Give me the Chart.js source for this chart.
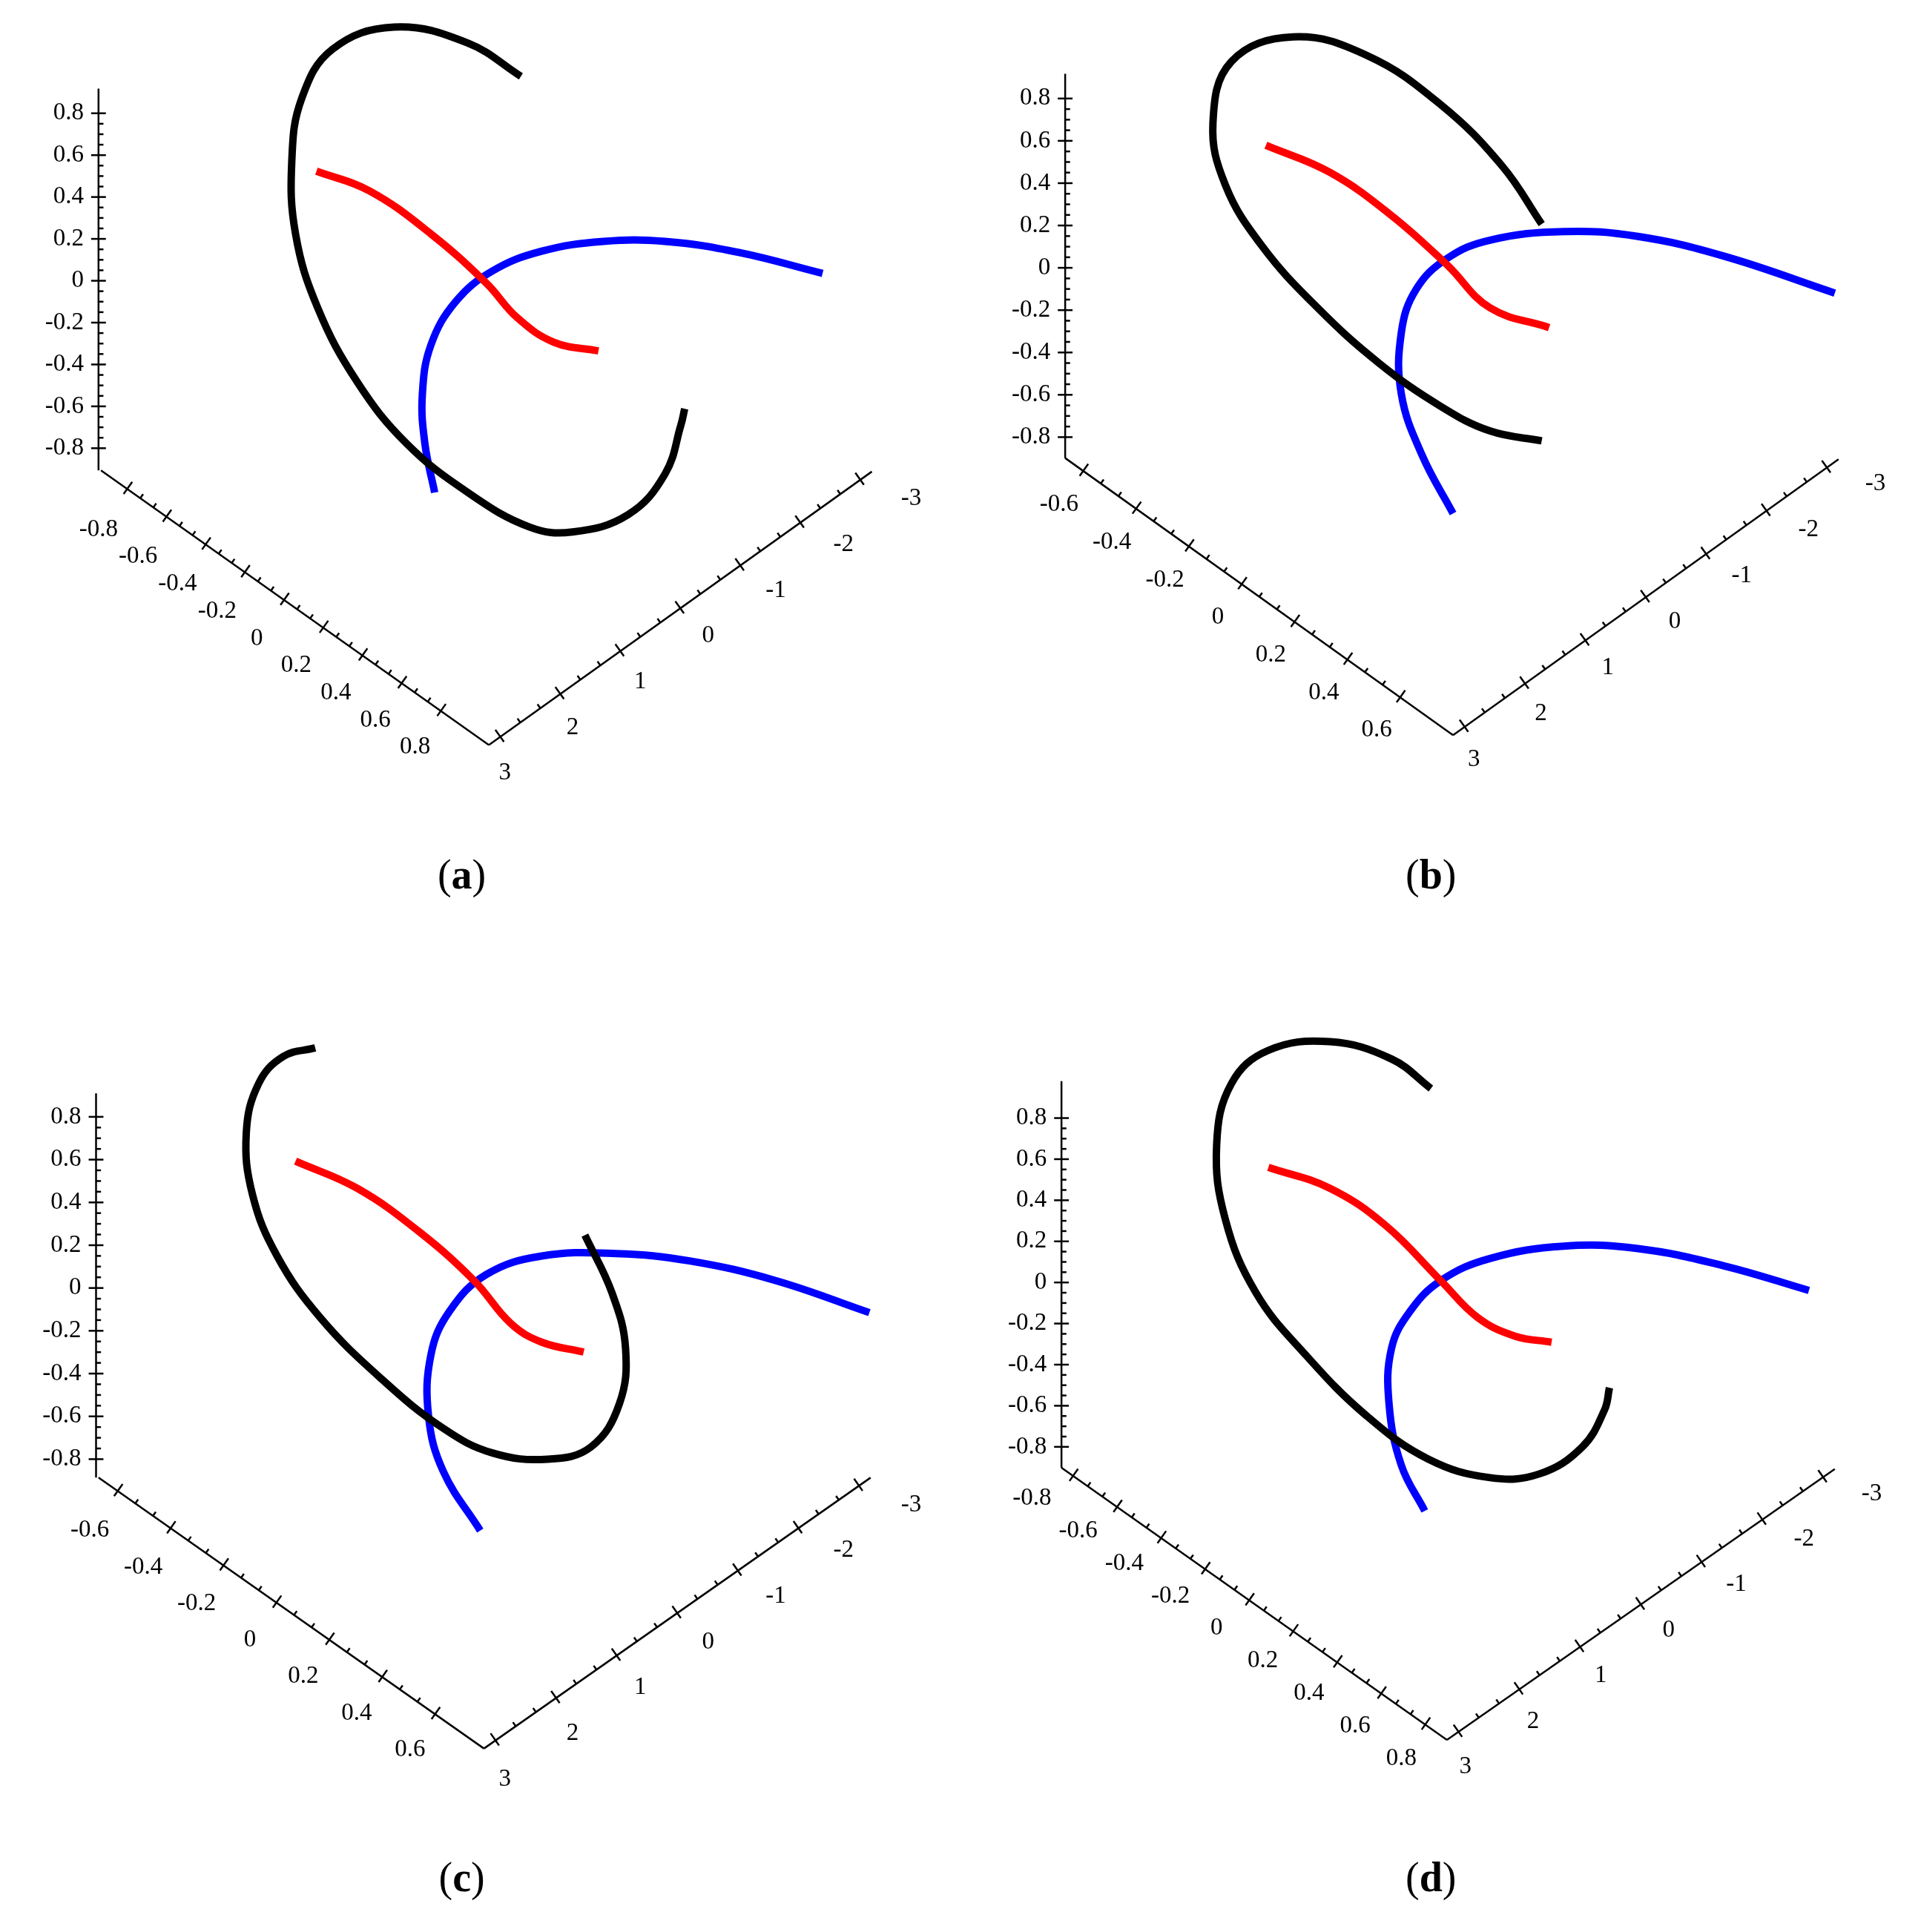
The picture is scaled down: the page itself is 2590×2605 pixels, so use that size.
<!DOCTYPE html>
<html>
<head>
<meta charset="utf-8">
<script src="https://cdn.jsdelivr.net/npm/chart.js@4/dist/chart.umd.min.js"></script>
<style>
  html, body { margin: 0; padding: 0; background: #fff; }
  #wrap { width: 2590px; height: 2605px; position: relative; }
</style>
</head>
<body>
<div id="wrap"><canvas id="c"></canvas></div>
<script>
// curve points, in picture units (1560 x 1569 frame)
const blackA = [[423,62],[380,35],[320,22],[270,40],[245,80],[237,130],[240,190],[258,250],[290,310],[330,360],[380,400],[430,428],[465,432],[510,418],[540,385],[553,345],[556,332]];
const redA = [[257,139],[300,155],[350,190],[395,230],[420,258],[450,278],[486,285]];
const blueA = [[353,400],[345,360],[343,320],[350,280],[370,245],[400,220],[440,204],[490,196],[540,196],[600,205],[668,222]];

const blackB = [[1252,182],[1220,135],[1170,85],[1110,45],[1050,30],[1000,50],[985,100],[995,150],[1025,200],[1070,250],[1120,295],[1170,330],[1210,350],[1252,358]];
const redB = [[1028,118],[1080,140],[1130,175],[1175,215],[1210,250],[1258,266]];
const blueB = [[1180,417],[1155,370],[1138,320],[1138,270],[1150,235],[1175,210],[1210,195],[1270,188],[1330,192],[1400,208],[1490,238]];

const blackC = [[256,851],[230,858],[210,880],[200,920],[205,970],[225,1020],[260,1070],[310,1120],[360,1160],[400,1180],[445,1185],[480,1175],[503,1140],[508,1095],[497,1050],[475,1003]];
const redC = [[240,943],[290,965],[340,1000],[385,1040],[415,1075],[440,1090],[474,1098]];
const blueC = [[390,1243],[360,1195],[348,1150],[350,1100],[365,1065],[395,1035],[440,1020],[500,1018],[560,1024],[630,1040],[706,1066]];

const blackD = [[1162,884],[1130,860],[1080,846],[1030,853],[1000,880],[988,930],[995,990],[1020,1050],[1060,1100],[1110,1150],[1160,1185],[1210,1200],[1250,1197],[1285,1175],[1303,1145],[1307,1127]];
const redD = [[1030,948],[1080,965],[1125,995],[1170,1040],[1200,1070],[1230,1085],[1260,1090]];
const blueD = [[1157,1227],[1138,1190],[1128,1140],[1130,1095],[1145,1065],[1170,1040],[1210,1022],[1270,1012],[1330,1014],[1400,1028],[1469,1048]];

// tick labels
const zTicks = ["0.8","0.6","0.4","0.2","0","-0.2","-0.4","-0.6","-0.8"];
const xTicksA = ["-0.8","-0.6","-0.4","-0.2","0","0.2","0.4","0.6","0.8"];
const xTicksB = ["-0.6","-0.4","-0.2","0","0.2","0.4","0.6"];
const xTicksC = ["-0.6","-0.4","-0.2","0","0.2","0.4","0.6"];
const xTicksD = ["-0.8","-0.6","-0.4","-0.2","0","0.2","0.4","0.6","0.8"];
const yTicks = ["3","2","1","0","-1","-2","-3"];
const captions = ["a","b","c","d"];

// panel layout (picture units)
const panels = [
  { vx: 80, vTop: 72, vBot: 382, z0: 92, z1: 364,
    left: [[82,382],[397,605]], lLab: [[80,430],[337,607]], xTicks: xTicksA,
    right: [[397,605],[708,383]], rLab: [[410,628],[740,405]], cap: [375,713] },
  { vx: 865, vTop: 60, vBot: 372, z0: 80, z1: 355,
    left: [[865,372],[1180,597]], lLab: [[860,410],[1118,593]], xTicks: xTicksB,
    right: [[1180,597],[1493,373]], rLab: [[1197,617],[1523,393]], cap: [1162,713] },
  { vx: 78, vTop: 888, vBot: 1200, z0: 907, z1: 1185,
    left: [[80,1200],[393,1420]], lLab: [[73,1243],[333,1421]], xTicks: xTicksC,
    right: [[393,1420],[707,1200]], rLab: [[410,1445],[740,1222]], cap: [375,1527] },
  { vx: 862, vTop: 878, vBot: 1192, z0: 908, z1: 1175,
    left: [[862,1192],[1175,1413]], lLab: [[838,1217],[1138,1428]], xTicks: xTicksD,
    right: [[1175,1413],[1490,1193]], rLab: [[1190,1435],[1520,1213]], cap: [1162,1527] }
];

const toPts = (arr) => arr.map(p => ({ x: p[0], y: p[1] }));
const curve = (arr, color) => ({
  data: toPts(arr), showLine: true, borderColor: color, borderWidth: 10,
  pointRadius: 0, tension: 0.4, fill: false, borderCapStyle: 'butt'
});

const axesPlugin = {
  id: 'axes3d',
  beforeDatasetsDraw(chart) {
    const ctx = chart.ctx, sx = chart.scales.x, sy = chart.scales.y;
    const P = (x, y) => [sx.getPixelForValue(x), sy.getPixelForValue(y)];
    const s = (sx.getPixelForValue(100) - sx.getPixelForValue(0)) / 100;
    ctx.save();
    ctx.strokeStyle = '#000';
    ctx.fillStyle = '#000';
    ctx.lineWidth = 2.5;
    const line = (a, b) => { ctx.beginPath(); ctx.moveTo(...P(a[0], a[1])); ctx.lineTo(...P(b[0], b[1])); ctx.stroke(); };
    const tickFont = Math.round(20 * s) + 'px "Liberation Serif"';
    ctx.font = tickFont;

    panels.forEach((pn, i) => {
      // vertical axis
      line([pn.vx, pn.vTop], [pn.vx, pn.vBot]);
      const n = zTicks.length;
      ctx.textAlign = 'right'; ctx.textBaseline = 'middle';
      for (let j = 0; j < n; j++) {
        const y = pn.z0 + (pn.z1 - pn.z0) * j / (n - 1);
        line([pn.vx - 6, y], [pn.vx + 6, y]);
        if (j < n - 1) {
          const h = (pn.z1 - pn.z0) / (n - 1);
          for (let m = 1; m < 4; m++) line([pn.vx, y + h * m / 4], [pn.vx + 4, y + h * m / 4]);
        }
        const [px, py] = P(pn.vx - 12, y);
        ctx.fillText(zTicks[j], px, py);
      }
      // slanted axes
      [[pn.left, pn.lLab, pn.xTicks], [pn.right, pn.rLab, yTicks]].forEach(([ax, lab, ticks]) => {
        line(ax[0], ax[1]);
        const dx = ax[1][0] - ax[0][0], dy = ax[1][1] - ax[0][1];
        const L2 = dx * dx + dy * dy, L = Math.sqrt(L2);
        const proj = (p) => ((p[0] - ax[0][0]) * dx + (p[1] - ax[0][1]) * dy) / L2;
        const t0 = Math.max(0.03, proj(lab[0])), t1 = Math.min(0.97, proj(lab[1]));
        let nx = -dy / L, ny = dx / L;
        if (ny > 0) { nx = -nx; ny = -ny; }
        const m = ticks.length;
        ctx.textAlign = 'center'; ctx.textBaseline = 'middle';
        for (let j = 0; j < m; j++) {
          const t = t0 + (t1 - t0) * j / (m - 1);
          const bx = ax[0][0] + dx * t, by = ax[0][1] + dy * t;
          line([bx - nx * 5, by - ny * 5], [bx + nx * 7, by + ny * 7]);
          if (j < m - 1) {
            const h = (t1 - t0) / (m - 1);
            for (let q = 1; q < 3; q++) {
              const tt = t + h * q / 3;
              const cx = ax[0][0] + dx * tt, cy = ax[0][1] + dy * tt;
              line([cx, cy], [cx + nx * 4, cy + ny * 4]);
            }
          }
          const lx = lab[0][0] + (lab[1][0] - lab[0][0]) * j / (m - 1);
          const ly = lab[0][1] + (lab[1][1] - lab[0][1]) * j / (m - 1);
          const [px, py] = P(lx, ly);
          ctx.fillText(ticks[j], px, py);
        }
      });
      // caption: regular parentheses, bold letter
      const [cx, cy] = P(pn.cap[0], pn.cap[1]);
      ctx.textBaseline = 'middle';
      const big = Math.round(34 * s);
      const reg = big + 'px "Liberation Serif"', bold = 'bold ' + big + 'px "Liberation Serif"';
      ctx.font = reg;
      const wL = ctx.measureText('(').width;
      ctx.font = bold;
      const wC = ctx.measureText(captions[i]).width;
      const x0 = cx - (wL * 2 + wC) / 2;
      ctx.textAlign = 'left';
      ctx.font = reg;
      ctx.fillText('(', x0, cy);
      ctx.fillText(')', x0 + wL + wC, cy);
      ctx.font = bold;
      ctx.fillText(captions[i], x0 + wL, cy);
      ctx.font = tickFont;
    });
    ctx.restore();
  }
};

new Chart(document.getElementById('c'), {
  type: 'scatter',
  data: {
    datasets: [
      curve(blackA, '#000'), curve(redA, '#f00'), curve(blueA, '#00f'),
      curve(blackB, '#000'), curve(redB, '#f00'), curve(blueB, '#00f'),
      curve(blackC, '#000'), curve(redC, '#f00'), curve(blueC, '#00f'),
      curve(blackD, '#000'), curve(redD, '#f00'), curve(blueD, '#00f')
    ]
  },
  options: {
    responsive: true,
    maintainAspectRatio: false,
    animation: false,
    layout: { padding: 0 },
    plugins: { legend: { display: false }, tooltip: { enabled: false } },
    scales: {
      x: { type: 'linear', min: 0, max: 1560, display: false },
      y: { type: 'linear', min: 0, max: 1569, reverse: true, display: false }
    }
  },
  plugins: [axesPlugin]
});
</script>
</body>
</html>
